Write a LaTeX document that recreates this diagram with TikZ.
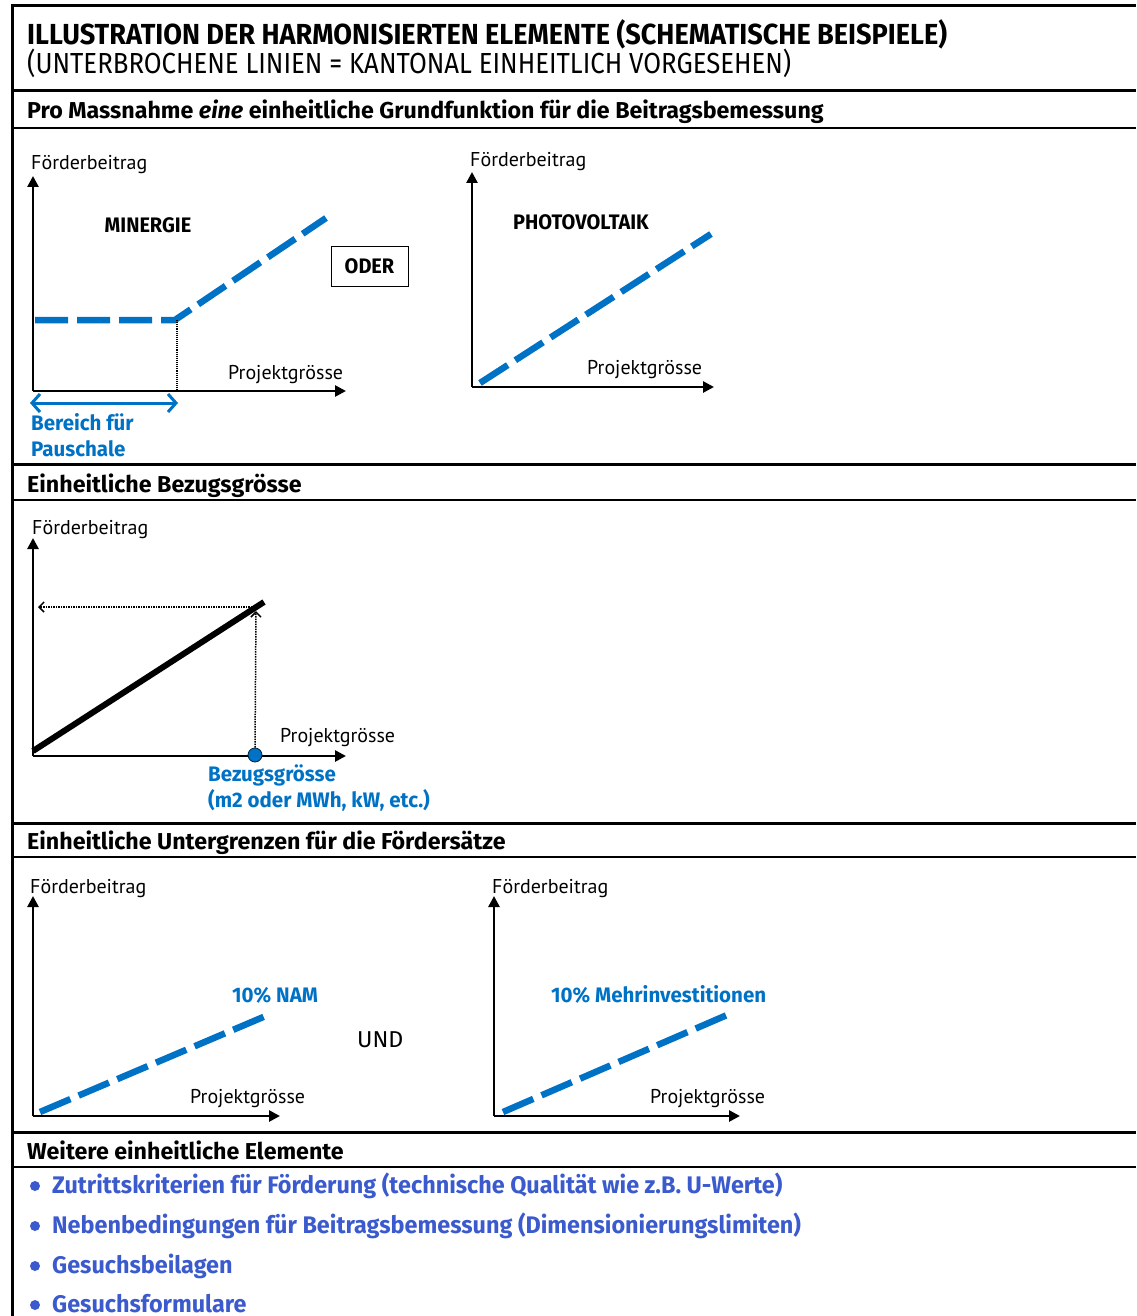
\documentclass[tikz,border=0pt]{standalone}
\usepackage{fontspec}
\setmainfont{Fira Sans}
\newfontfamily\titlefont[FakeStretch=0.935]{Fira Sans}
\newfontfamily\subfont[FakeStretch=0.888]{Fira Sans}
\newfontfamily\hdfont[FakeStretch=1.01]{Fira Sans}
\newfontfamily\blfont[FakeStretch=0.975]{Fira Sans}
\newfontfamily\lblfont{PT Sans}
\newfontfamily\bxfont[FakeStretch=0.95]{Fira Sans}
\newfontfamily\bluefont[FakeStretch=0.977]{Fira Sans}
\usetikzlibrary{arrows.meta}
\definecolor{gblue}{RGB}{0,114,198}
\definecolor{lblue}{RGB}{58,90,205}
\begin{document}
\begin{tikzpicture}[x=1pt,y=-1pt,
  rulethick/.style={line width=3pt},
  rulethin/.style={line width=1.6pt},
  axis/.style={line width=2.6pt,-{Triangle[length=11pt,width=11pt]}},
  bdash/.style={gblue,line width=6.5pt,dash pattern=on 33pt off 9pt},
  title/.style={anchor=base west,inner sep=0pt,font=\titlefont\bfseries\fontsize{29}{31}\selectfont},
  subtitle/.style={anchor=base west,inner sep=0pt,font=\subfont\fontsize{29}{31}\selectfont},
  header/.style={anchor=base west,inner sep=0pt,font=\hdfont\bfseries\fontsize{23}{25}\selectfont},
  bullettext/.style={anchor=base west,inner sep=0pt,text=lblue,font=\blfont\bfseries\fontsize{24}{26}\selectfont},
  bulletdot/.style={circle,fill=lblue,inner sep=0pt,minimum size=10pt},
  axlabel/.style={anchor=base west,inner sep=0pt,font=\lblfont\fontsize{20}{22}\selectfont},
  boldlabel/.style={anchor=base,inner sep=0pt,font=\bxfont\bfseries\fontsize{21}{23}\selectfont},
  bluelabel/.style={anchor=base west,inner sep=0pt,text=gblue,font=\bluefont\bfseries\fontsize{21}{23}\selectfont},
  dotline/.style={densely dotted,line width=1.5pt},
]
\useasboundingbox (0,0) rectangle (1136,1316);
% frame and rules
\draw[rulethick] (1136,6) -- (12,6) -- (12,1316);
\draw[rulethick] (12,91) -- (1136,91);
\draw[rulethin] (12,128) -- (1136,128);
\draw[rulethick] (12,464) -- (1136,464);
\draw[rulethin] (12,500) -- (1136,500);
\draw[rulethick] (12,823) -- (1136,823);
\draw[rulethin] (12,857) -- (1136,857);
\draw[rulethick] (12,1132) -- (1136,1132);
\draw[rulethin] (12,1167) -- (1136,1167);
% titles
\node[title] (t1) at (27,45) {ILLUSTRATION DER HARMONISIERTEN ELEMENTE (SCHEMATISCHE BEISPIELE)};
\node[subtitle] (t2) at (27,74) {(UNTERBROCHENE LINIEN = KANTONAL EINHEITLICH VORGESEHEN)};
\node[header] (h1) at (27,119) {Pro Massnahme \textit{eine} einheitliche Grundfunktion für die Beitragsbemessung};
\node[header] (h2) at (27,492) {Einheitliche Bezugsgrösse};
\node[header] (h3) at (27,849) {Einheitliche Untergrenzen für die Fördersätze};
\node[header] (h4) at (27,1159) {Weitere einheitliche Elemente};
% ---------- Graph 1: MINERGIE
\coordinate (o1) at (33,391);
\coordinate (y1) at (33,176);
\coordinate (x1) at (346,391);
\draw[axis] (o1) -- (y1);
\draw[axis] (o1) -- (x1);
\node[axlabel] (fb1) at (31,170) {Förderbeitrag};
\node[axlabel] (pg1) at (228,379) {Projektgrösse};
\node[boldlabel] (min) at (148,232) {MINERGIE};
\coordinate (m0) at (35,320);
\coordinate (m1) at (175,320);
\coordinate (m2) at (326,218);
\draw[bdash] (m0) -- (m1) -- (m2);
\coordinate (m1t) at (177,320);
\coordinate (m1b) at (177,391);
\draw[dotline,line width=1.1pt] (m1t) -- (m1b);
\coordinate (br0) at (30,403);
\coordinate (br1) at (178,403);
\draw[gblue,line width=3pt,{Straight Barb[length=8pt,width=18pt]}-{Straight Barb[length=8pt,width=18pt]}] (br0) -- (br1);
\node[bluelabel] (bp1) at (31,430) {Bereich für};
\node[bluelabel] (bp2) at (31,456) {Pauschale};
\node[draw,line width=1pt,minimum width=77pt,minimum height=40pt,inner sep=0pt,font=\bxfont\bfseries\fontsize{21}{23}\selectfont] (oder) at (369.5,266) {ODER};
% ---------- Graph 2: PHOTOVOLTAIK
\coordinate (o2) at (472,387);
\coordinate (y2) at (472,172);
\coordinate (x2) at (714,387);
\draw[axis] (o2) -- (y2);
\draw[axis] (o2) -- (x2);
\node[axlabel] (fb2) at (470,167) {Förderbeitrag};
\node[axlabel] (pg2) at (587,374) {Projektgrösse};
\node[boldlabel,font=\bxfont\bfseries\fontsize{21}{23}\selectfont] (pv) at (581,229) {PHOTOVOLTAIK};
\coordinate (p0) at (480,383);
\coordinate (p1) at (711,234);
\draw[bdash] (p0) -- (p1);
% ---------- Graph 3: Bezugsgrösse
\coordinate (o3) at (33,756);
\coordinate (y3) at (33,538);
\coordinate (x3) at (346,756);
\draw[axis] (o3) -- (y3);
\draw[axis] (o3) -- (x3);
\node[axlabel] (fb3) at (32,534) {Förderbeitrag};
\node[axlabel] (pg3) at (280,742) {Projektgrösse};
\coordinate (l0) at (33,751);
\coordinate (l1) at (264,602);
\draw[line width=6pt] (l0) -- (l1);
\node[circle,fill=gblue,draw=black!70!gblue,line width=0.8pt,minimum size=14pt,inner sep=0pt] (bz) at (255,755) {};
\coordinate (vt) at (256,611);
\coordinate (ht0) at (252,607);
\coordinate (ht1) at (38,607);
\draw[dotline,-{Straight Barb[length=5pt,width=10pt]}] (bz.north) -- (vt);
\draw[dotline,-{Straight Barb[length=5pt,width=10pt]}] (ht0) -- (ht1);
\node[bluelabel] (bzl1) at (208,781) {Bezugsgrösse};
\node[bluelabel] (bzl2) at (208,807) {(m2 oder MWh, kW, etc.)};
% ---------- Graph 4: 10% NAM
\coordinate (o4) at (33,1116);
\coordinate (y4) at (33,896);
\coordinate (x4) at (280,1116);
\draw[axis] (o4) -- (y4);
\draw[axis] (o4) -- (x4);
\node[axlabel] (fb4) at (30,893) {Förderbeitrag};
\node[axlabel] (pg4) at (190,1103) {Projektgrösse};
\node[bluelabel] (nam) at (232,1002) {10\% NAM};
\coordinate (n0) at (40,1112);
\coordinate (n1) at (268,1015);
\draw[bdash] (n0) -- (n1);
\node[anchor=base west,inner sep=0pt,font=\hdfont\fontsize{23}{25}\selectfont] (und) at (357,1047) {UND};
% ---------- Graph 5: 10% Mehrinvestitionen
\coordinate (o5) at (494,1116);
\coordinate (y5) at (494,896);
\coordinate (x5) at (740,1116);
\draw[axis] (o5) -- (y5);
\draw[axis] (o5) -- (x5);
\node[axlabel] (fb5) at (492,893) {Förderbeitrag};
\node[axlabel] (pg5) at (650,1103) {Projektgrösse};
\node[bluelabel] (mi) at (551,1002) {10\% Mehrinvestitionen};
\coordinate (q0) at (503,1112);
\coordinate (q1) at (727,1015);
\draw[bdash] (q0) -- (q1);
% ---------- bullets
\node[bulletdot] (d1) at (35,1186) {};
\node[bullettext] (b1) at (52,1193) {Zutrittskriterien für Förderung (technische Qualität wie z.B. U-Werte)};
\node[bulletdot] (d2) at (35,1226) {};
\node[bullettext] (b2) at (52,1233) {Nebenbedingungen für Beitragsbemessung (Dimensionierungslimiten)};
\node[bulletdot] (d3) at (35,1266) {};
\node[bullettext] (b3) at (52,1273) {Gesuchsbeilagen};
\node[bulletdot] (d4) at (35,1305) {};
\node[bullettext] (b4) at (52,1312) {Gesuchsformulare};
\end{tikzpicture}
\end{document}
